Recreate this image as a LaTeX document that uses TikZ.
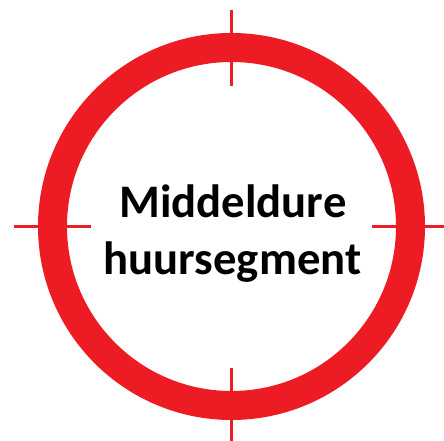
\documentclass[tikz,border=0pt]{standalone}
\usepackage{fontspec}
\setmainfont{Carlito}
\definecolor{ringred}{RGB}{237,28,36}

\tikzset{every picture/.style={line width=0.75pt}}

\begin{document}
\begin{tikzpicture}[x=0.75pt,y=0.75pt,yscale=-1,xscale=1]
	\useasboundingbox (0,0) rectangle (444,441); %set diagram size to 444 by 441

	\coordinate (centre) at (231.5,226.5);

	%Ring [id:ring]
	\draw [color=ringred, line width=21.75pt] (centre) circle (179);

	%Straight Lines [id:crosstop]
	\draw [color=ringred, line width=2.8pt] (231.5,10) -- (231.5,86) ;
	%Straight Lines [id:crossbottom]
	\draw [color=ringred, line width=2.8pt] (231.5,368) -- (231.5,441) ;
	%Straight Lines [id:crossleft]
	\draw [color=ringred, line width=2.8pt] (14,226.5) -- (91,226.5) ;
	%Straight Lines [id:crossright]
	\draw [color=ringred, line width=2.8pt] (372,226.5) -- (444,226.5) ;

	% Text Node
	\node (lineone) [anchor=base, inner sep=0pt, font=\fontsize{35}{42}\selectfont\bfseries] at (233,218) {Middeldure};
	% Text Node
	\node (linetwo) [anchor=base, inner sep=0pt, font=\fontsize{35}{42}\selectfont\bfseries] at (232.5,275) {huursegment};

\end{tikzpicture}
\end{document}
